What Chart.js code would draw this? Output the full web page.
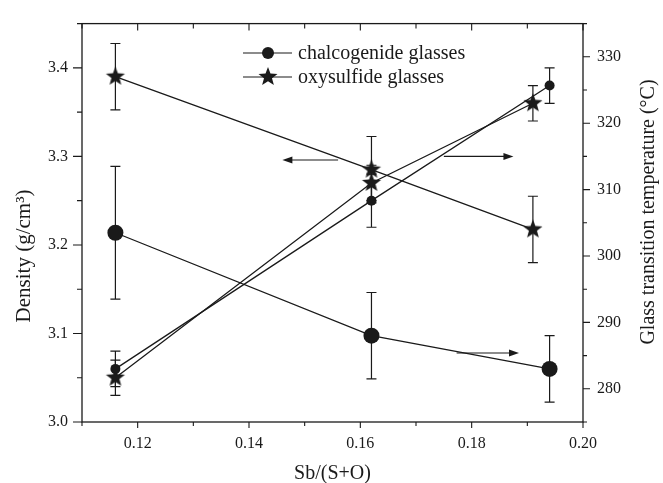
<!DOCTYPE html>
<html>
<head>
<meta charset="utf-8">
<script src="https://cdn.jsdelivr.net/npm/chart.js@4.4.1/dist/chart.umd.min.js"></script>
<style>
  html, body { margin: 0; padding: 0; background: #fff; }
  #wrap { width: 663px; height: 483px; }
</style>
</head>
<body>
<div id="wrap"><canvas id="grafik" width="663" height="483"></canvas></div>
<script>
// Sb/(S+O) oranlari
const sbChalco = [0.116, 0.162, 0.194];
const sbOxy = [0.116, 0.162, 0.191];

// Yogunluk (g/cm3)
const densChalco = [3.06, 3.25, 3.38];
const densChalcoErr = [0.02, 0.03, 0.02];
const densOxy = [3.05, 3.27, 3.36];
const densOxyErr = [0.02, 0.02, 0.02];

// Camsi gecis sicakligi (C)
const tgChalco = [303.5, 288, 283];
const tgChalcoErr = [10, 6.5, 5];
const tgOxy = [327, 313, 304];
const tgOxyErr = [5, 5, 5];

// Oklar: [x baslangic, x bitis, deger, eksen]
const arrowLeft = [0.156, 0.146, 3.296, "y"];
const arrowRightOxy = [0.175, 0.1875, 315, "y1"];
const arrowRightChalco = [0.1773, 0.1885, 285.4, "y1"];

const seriesNames = ["chalcogenide glasses", "oxysulfide glasses"];

const SERIF = "'Liberation Serif', 'DejaVu Serif', serif";
const INK = "#1a1a1a";

function makeStar(r) {
  const c = document.createElement("canvas");
  c.width = c.height = 2 * r + 2;
  const g = c.getContext("2d");
  g.fillStyle = INK;
  g.beginPath();
  for (let i = 0; i < 10; i++) {
    const rad = i % 2 === 0 ? r : r * 0.42;
    const a = -Math.PI / 2 + (i * Math.PI) / 5;
    g.lineTo(r + 1 + rad * Math.cos(a), r + 1 + rad * Math.sin(a));
  }
  g.closePath();
  g.fill();
  return c;
}
const starImg = makeStar(10);

const pts = (xs, ys) => xs.map((x, i) => ({ x: x, y: ys[i] }));

function lineSet(label, xs, ys, errs, axis, style, radius) {
  return {
    label: label,
    data: pts(xs, ys),
    errs: errs,
    yAxisID: axis,
    showLine: true,
    borderColor: INK,
    borderWidth: 1.3,
    backgroundColor: INK,
    pointStyle: style,
    pointRadius: radius,
    pointBorderWidth: 0,
    pointHoverRadius: radius,
  };
}

// Hata cubuklari
const errorBars = {
  id: "errorBars",
  beforeDatasetsDraw(chart) {
    const ctx = chart.ctx;
    ctx.save();
    ctx.strokeStyle = INK;
    ctx.lineWidth = 1.2;
    chart.data.datasets.forEach((ds, i) => {
      const meta = chart.getDatasetMeta(i);
      const ys = chart.scales[ds.yAxisID];
      meta.data.forEach((p, j) => {
        const v = ds.data[j].y;
        const top = ys.getPixelForValue(v + ds.errs[j]);
        const bot = ys.getPixelForValue(v - ds.errs[j]);
        ctx.beginPath();
        ctx.moveTo(p.x, top); ctx.lineTo(p.x, bot);
        ctx.moveTo(p.x - 5, top); ctx.lineTo(p.x + 5, top);
        ctx.moveTo(p.x - 5, bot); ctx.lineTo(p.x + 5, bot);
        ctx.stroke();
      });
    });
    ctx.restore();
  },
};

// Cerceve, tikler, oklar, basliklar ve lejant
const decor = {
  id: "decor",
  afterDraw(chart) {
    const ctx = chart.ctx;
    const a = chart.chartArea;
    const xs = chart.scales.x, yl = chart.scales.y, yr = chart.scales.y1;
    ctx.save();
    ctx.strokeStyle = INK;
    ctx.lineWidth = 1.3;
    ctx.strokeRect(a.left, a.top, a.right - a.left, a.bottom - a.top);

    ctx.lineWidth = 1.1;
    ctx.beginPath();
    xs.ticks.forEach((t) => {
      const px = xs.getPixelForValue(t.value);
      const major = t.label !== "";
      ctx.moveTo(px, a.bottom); ctx.lineTo(px, a.bottom + (major ? 6 : 4));
      ctx.moveTo(px, a.top); ctx.lineTo(px, a.top + (major ? 7 : 5));
    });
    yl.ticks.forEach((t) => {
      const py = yl.getPixelForValue(t.value);
      ctx.moveTo(a.left, py); ctx.lineTo(a.left - (t.label !== "" ? 9 : 5), py);
    });
    yr.ticks.forEach((t) => {
      const py = yr.getPixelForValue(t.value);
      ctx.moveTo(a.right, py); ctx.lineTo(a.right + (t.label !== "" ? 7 : 4), py);
    });
    ctx.stroke();

    // oklar
    [arrowLeft, arrowRightOxy, arrowRightChalco].forEach((ar) => {
      const sc = chart.scales[ar[3]];
      const x1 = xs.getPixelForValue(ar[0]);
      const x2 = xs.getPixelForValue(ar[1]);
      const y = sc.getPixelForValue(ar[2]);
      const dir = Math.sign(x2 - x1);
      ctx.beginPath();
      ctx.moveTo(x1, y); ctx.lineTo(x2 - dir * 8, y);
      ctx.stroke();
      ctx.beginPath();
      ctx.moveTo(x2, y);
      ctx.lineTo(x2 - dir * 10, y - 3.5);
      ctx.lineTo(x2 - dir * 10, y + 3.5);
      ctx.closePath();
      ctx.fillStyle = INK;
      ctx.fill();
    });

    // eksen basliklari
    ctx.fillStyle = INK;
    ctx.font = "20px " + SERIF;
    ctx.textAlign = "center";
    ctx.textBaseline = "middle";
    ctx.fillText("Sb/(S+O)", (a.left + a.right) / 2, 474);
    ctx.save();
    ctx.translate(24, 256);
    ctx.rotate(-Math.PI / 2);
    ctx.font = "21px " + SERIF;
    ctx.fillText("Density (g/cm\u00b3)", 0, 0);
    ctx.restore();
    ctx.save();
    ctx.translate(649, 212);
    ctx.rotate(-Math.PI / 2);
    ctx.fillText("Glass transition temperature (\u00b0C)", 0, 0);
    ctx.restore();

    // lejant
    ctx.textAlign = "left";
    ctx.font = "20px " + SERIF;
    const rows = [53, 77];
    rows.forEach((ry, i) => {
      ctx.beginPath();
      ctx.moveTo(243, ry); ctx.lineTo(292, ry);
      ctx.stroke();
      if (i === 0) {
        ctx.beginPath();
        ctx.arc(268, ry, 6, 0, Math.PI * 2);
        ctx.fill();
      } else {
        ctx.drawImage(starImg, 268 - starImg.width / 2, ry - starImg.height / 2);
      }
      ctx.fillText(seriesNames[i], 298, ry + 1);
    });
    ctx.restore();
  },
};

const tickFont = { family: SERIF, size: 16 };

new Chart(document.getElementById("grafik"), {
  type: "scatter",
  data: {
    datasets: [
      lineSet(seriesNames[0] + " density", sbChalco, densChalco, densChalcoErr, "y", "circle", 5),
      lineSet(seriesNames[0] + " Tg", sbChalco, tgChalco, tgChalcoErr, "y1", "circle", 8),
      lineSet(seriesNames[1] + " density", sbOxy, densOxy, densOxyErr, "y", starImg, 10),
      lineSet(seriesNames[1] + " Tg", sbOxy, tgOxy, tgOxyErr, "y1", starImg, 10),
    ],
  },
  options: {
    responsive: false,
    animation: false,
    layout: { padding: { top: 13, left: 0, right: 0, bottom: 0 } },
    plugins: { legend: { display: false }, tooltip: { enabled: false } },
    scales: {
      x: {
        type: "linear",
        min: 0.11,
        max: 0.2,
        grid: { display: false, drawTicks: false },
        border: { display: false },
        afterFit: (s) => { s.height = 61; },
        ticks: {
          stepSize: 0.01,
          padding: 12,
          color: INK,
          font: tickFont,
          maxRotation: 0,
          autoSkip: false,
          callback: (v) => {
            const k = Math.round(v * 100);
            return k % 2 === 0 && k >= 12 ? (k / 100).toFixed(2) : "";
          },
        },
      },
      y: {
        position: "left",
        min: 3.0,
        max: 3.45,
        grid: { display: false, drawTicks: false },
        border: { display: false },
        afterFit: (s) => { s.width = 82; },
        ticks: {
          stepSize: 0.05,
          padding: 14,
          color: INK,
          font: tickFont,
          autoSkip: false,
          callback: (v) => {
            const k = Math.round(v * 100);
            return k % 10 === 0 ? (k / 100).toFixed(1) : "";
          },
        },
      },
      y1: {
        position: "right",
        min: 275,
        max: 335,
        grid: { display: false, drawTicks: false },
        border: { display: false },
        afterFit: (s) => { s.width = 80; },
        ticks: {
          stepSize: 5,
          padding: 14,
          color: INK,
          font: tickFont,
          autoSkip: false,
          callback: (v) => (v % 10 === 0 ? String(v) : ""),
        },
      },
    },
  },
  plugins: [errorBars, decor],
});
</script>
</body>
</html>
